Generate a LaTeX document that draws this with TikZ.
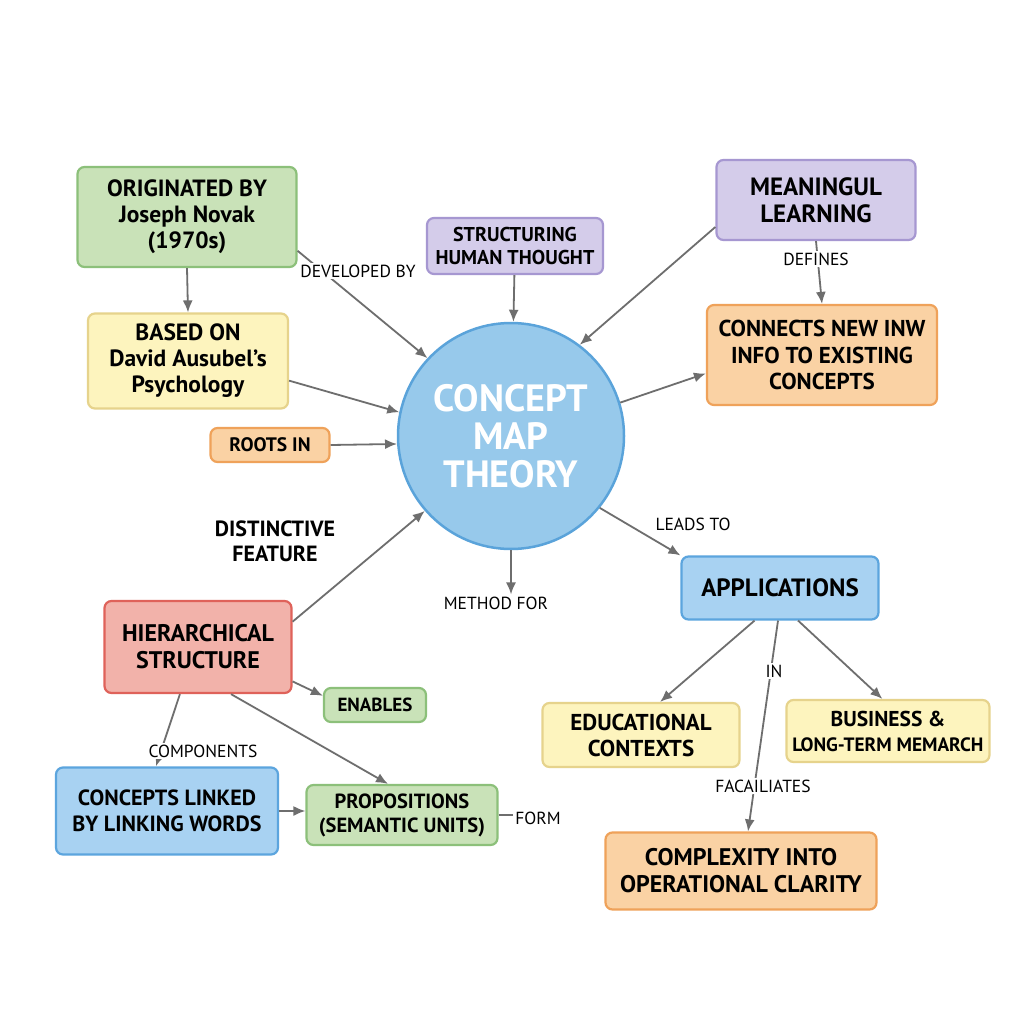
\documentclass[tikz,border=0pt]{standalone}
\usepackage{fontspec}
\setmainfont{PT Sans}
\usetikzlibrary{arrows.meta}
\definecolor{vertF}{HTML}{C9E2B8}\definecolor{vertT}{HTML}{8CC07A}
\definecolor{jauneF}{HTML}{FDF4BE}\definecolor{jauneT}{HTML}{E6D38C}
\definecolor{orangeF}{HTML}{FAD2A4}\definecolor{orangeT}{HTML}{EFA25A}
\definecolor{violetF}{HTML}{D4CCEA}\definecolor{violetT}{HTML}{A697D1}
\definecolor{bleuF}{HTML}{A8D2F2}\definecolor{bleuT}{HTML}{5CA5DE}
\definecolor{rougeF}{HTML}{F2B2AA}\definecolor{rougeT}{HTML}{DF625A}
\definecolor{cercleF}{HTML}{97C9EB}\definecolor{cercleT}{HTML}{5AA3DA}
\definecolor{fleche}{HTML}{6E6E6E}
\tikzset{
  boite/.style={rounded corners=7pt, line width=2.2pt, align=center, inner sep=3pt,
    font=\fontsize{23.5}{26}\selectfont\bfseries},
  vert/.style={boite, fill=vertF, draw=vertT},
  jaune/.style={boite, fill=jauneF, draw=jauneT},
  orange/.style={boite, fill=orangeF, draw=orangeT},
  violet/.style={boite, fill=violetF, draw=violetT},
  bleu/.style={boite, fill=bleuF, draw=bleuT},
  rouge/.style={boite, fill=rougeF, draw=rougeT},
  lien/.style={font=\fontsize{17.5}{20}\selectfont, inner sep=2pt},
  blanc/.style={lien, fill=white},
  fl/.style={draw=fleche, line width=1.8pt, -{Latex[length=12pt,width=10pt]}},
}
\begin{document}
\begin{tikzpicture}[x=1pt,y=-1pt]
  % fond
  \fill[white] (0,0) rectangle (1024,1024);
  \useasboundingbox (0,0) rectangle (1024,1024);
  % concept central
  \node[circle, fill=cercleF, draw=cercleT, line width=2.5pt, minimum size=226pt,
    align=center, text=white, font=\fontsize{38}{38}\selectfont\bfseries] (circ) at (511,436)
    {CONCEPT\\MAP\\THEORY};
  % boites
  \node[vert, minimum width=219pt, minimum height=100pt] (orig) at (187,217)
    {ORIGINATED BY\\Joseph Novak\\(1970s)};
  \node[jaune, minimum width=200pt, minimum height=95pt] (based) at (188,361)
    {BASED ON\\David Ausubel’s\\Psychology};
  \node[orange, minimum width=119pt, minimum height=34pt, font=\fontsize{19.5}{20}\selectfont\bfseries] (roots) at (270,445) {ROOTS IN};
  \node[violet, minimum width=176pt, minimum height=56pt, font=\fontsize{20}{23}\selectfont\bfseries] (struct) at (515,246)
    {STRUCTURING\\HUMAN THOUGHT};
  \node[violet, minimum width=199pt, minimum height=80pt, font=\fontsize{25}{27}\selectfont\bfseries] (meaning) at (816,200)
    {MEANINGUL\\LEARNING};
  \node[orange, minimum width=230pt, minimum height=100pt, font=\fontsize{23}{26.5}\selectfont\bfseries] (connects) at (822,355)
    {CONNECTS NEW INW\\INFO TO EXISTING\\CONCEPTS};
  \node[rouge, minimum width=187pt, minimum height=92pt, font=\fontsize{24}{27}\selectfont\bfseries] (hier) at (198,647)
    {HIERARCHICAL\\STRUCTURE};
  \node[vert, minimum width=102pt, minimum height=34pt, font=\fontsize{19}{20}\selectfont\bfseries] (enables) at (375,705) {ENABLES};
  \node[bleu, minimum width=222pt, minimum height=87pt, font=\fontsize{22}{26}\selectfont\bfseries] (concepts) at (167,811)
    {CONCEPTS LINKED\\BY LINKING WORDS};
  \node[vert, minimum width=191pt, minimum height=60pt, font=\fontsize{20.5}{24}\selectfont\bfseries] (props) at (402,815)
    {PROPOSITIONS\\(SEMANTIC UNITS)};
  \node[bleu, minimum width=197pt, minimum height=63pt, font=\fontsize{25}{26}\selectfont\bfseries] (apps) at (780,588)
    {APPLICATIONS};
  \node[jaune, minimum width=197pt, minimum height=64pt, font=\fontsize{23}{26}\selectfont\bfseries] (edu) at (641,735)
    {EDUCATIONAL\\CONTEXTS};
  \node[jaune, minimum width=203pt, minimum height=62pt, font=\fontsize{21.5}{25}\selectfont\bfseries] (business) at (888,731)
    {BUSINESS \&\\{\fontsize{19.3}{22}\selectfont LONG-TERM MEMARCH}};
  \node[orange, minimum width=271pt, minimum height=77pt, font=\fontsize{24}{27}\selectfont\bfseries] (complex) at (741,871)
    {COMPLEXITY INTO\\OPERATIONAL CLARITY};
  % liens sans boite
  \node[lien] (meth) at (496,603) {METHOD FOR};
  \node[lien] (leads) at (693,524) {LEADS TO};
  \node[lien] (form) at (538,818) {FORM};
  \node[lien, align=center, font=\fontsize{22}{25}\selectfont\bfseries] (distinct) at (275,541) {DISTINCTIVE\\FEATURE};
  % fleches
  \draw[fl] (orig.south) -- (based.north);
  \draw[fl] (orig.-17) -- (circ.137);
  \draw[fl] (based.-11) -- (circ.168);
  \draw[fl] (roots.east) -- (circ.184);
  \draw[fl] (struct) -- (circ);
  \draw[fl] (meaning.195) -- (circ.53);
  \draw[fl] (meaning.south) -- (connects.north);
  \draw[fl] (circ.17) -- (connects.189);
  \draw[fl] (circ.-39) -- (apps.north west);
  \draw[fl] (circ.south) -- (circ.south |- meth.north);
  \draw[fl] (hier.15) -- (circ.221);
  \draw[fl] (hier.-20) -- (enables.170);
  \draw[fl] (hier.-55) -- ([xshift=-14pt]props.north);
  \draw[fl] (hier.-111) -- (concepts.104);
  \draw[fl] (concepts.east) -- (concepts.east -| props.west);
  \draw[draw=fleche, line width=1.8pt] (props.east) -- (props.east -| form.west);
  \draw[fl] (apps.-128) -- (edu.60);
  \draw[fl] (apps.-61) -- (business.100);
  \draw[fl] ([xshift=-2pt]apps.south) -- ([xshift=7pt]complex.north);
  % etiquettes sur les fleches
  \node[blanc] (dev) at (358,271) {DEVELOPED BY};
  \node[blanc] (def) at (816,259) {DEFINES};
  \node[blanc] (comp) at (203,751) {COMPONENTS};
  \node[blanc] (in) at (774,671) {IN};
  \node[blanc] (fac) at (763,786) {FACAILIATES};
\end{tikzpicture}
\end{document}
